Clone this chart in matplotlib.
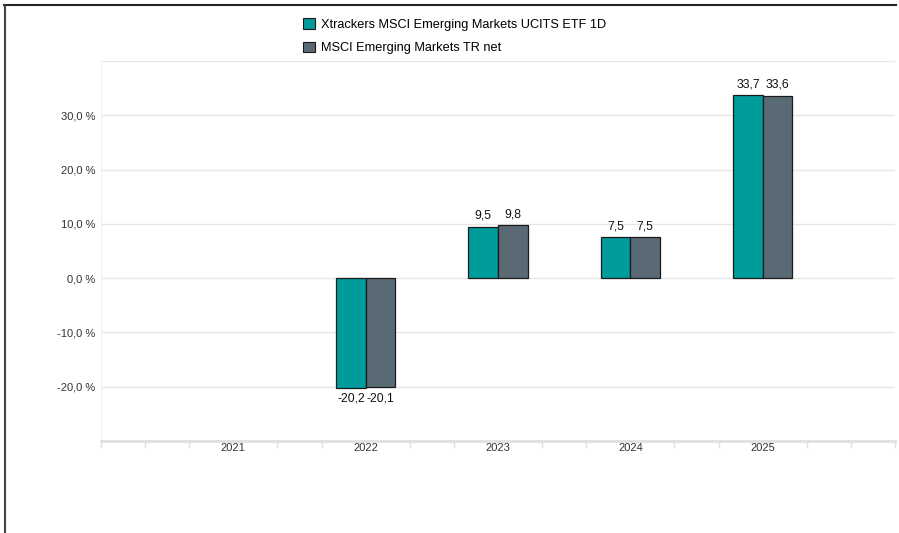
import numpy as np
import matplotlib
matplotlib.use("Agg")
from matplotlib import pyplot as plt
from matplotlib.lines import Line2D

plt.rcParams['font.family'] = ['Liberation Sans', 'DejaVu Sans']

years = ['2021', '2022', '2023', '2024', '2025']
etf = [np.nan, -20.2, 9.5, 7.5, 33.7]
index = [np.nan, -20.1, 9.8, 7.5, 33.6]
series_names = ['Xtrackers MSCI Emerging Markets UCITS ETF 1D', 'MSCI Emerging Markets TR net']
colors = ['#009b9b', '#5a6a75']

fig = plt.figure(figsize=(8.99, 5.33), dpi=100)
W, H = 899, 533
ax = fig.add_axes([101 / W, 1 - 441 / H, (895 - 101) / W, (441 - 61) / H])

xs = np.arange(1, len(years) + 1)
bw = 0.223
for vals, off, c in [(etf, -bw / 2, colors[0]), (index, bw / 2, colors[1])]:
    ax.bar(xs + off, vals, bw, color=c, edgecolor='#1a1a1a', linewidth=0.9, zorder=3)
    for x, v in zip(xs + off, vals):
        if np.isnan(v):
            continue
        lbl = ('%.1f' % v).replace('.', ',')
        if v >= 0:
            ax.text(x, v + 0.9, lbl, ha='center', va='bottom', fontsize=8.8, color='#111111')
        else:
            ax.text(x, v - 0.9, lbl, ha='center', va='top', fontsize=8.8, color='#111111')

ax.set_xlim(0, 6)
ax.set_ylim(-30, 40)
ax.set_yticks([-20, -10, 0, 10, 20, 30, 40])
ax.set_yticklabels(['-20,0 %', '-10,0 %', '0,0 %', '10,0 %', '20,0 %', '30,0 %', ''])
ax.grid(axis='y', color='#e6e6e6', linewidth=1, zorder=0)
ax.tick_params(axis='y', length=0, labelsize=8, labelcolor='#333333', pad=4)

ax.set_xticks(xs)
ax.set_xticklabels(years)
minor = [0, 1 / 3] + [k + d for k in range(1, 6) for d in (-1 / 3, 1 / 3)] + [6 - 1 / 3, 6]
ax.set_xticks(minor, minor=True)
ax.tick_params(axis='x', which='major', length=0, labelsize=8, labelcolor='#333333', pad=1.5)
ax.tick_params(axis='x', which='minor', length=5, color='#e0e0e0', width=1)

for s in ['top', 'right']:
    ax.spines[s].set_visible(False)
ax.spines['left'].set_color('#f2f2f2')
ax.spines['left'].set_linewidth(0.8)
ax.spines['bottom'].set_color('#e0e0e0')
ax.spines['bottom'].set_linewidth(2)

handles = [plt.Rectangle((0, 0), 1, 1, facecolor=c, edgecolor='#1a1a1a', linewidth=0.8) for c in colors]
fig.legend(handles, series_names, loc='upper left', bbox_to_anchor=(298 / W, 1 - 13 / H),
           frameon=False, fontsize=9.2, handlelength=0.9, handleheight=0.9,
           handletextpad=0.5, labelspacing=0.85, borderaxespad=0)

# screenshot frame (top and left edges)
fig.add_artist(Line2D([4 / W, 896 / W], [1 - 5 / H, 1 - 5 / H], color='#222222', linewidth=1.5))
fig.add_artist(Line2D([5 / W, 5 / W], [0, 1 - 5 / H], color='#444444', linewidth=1.5))

fig.savefig('out.png', dpi=100)
